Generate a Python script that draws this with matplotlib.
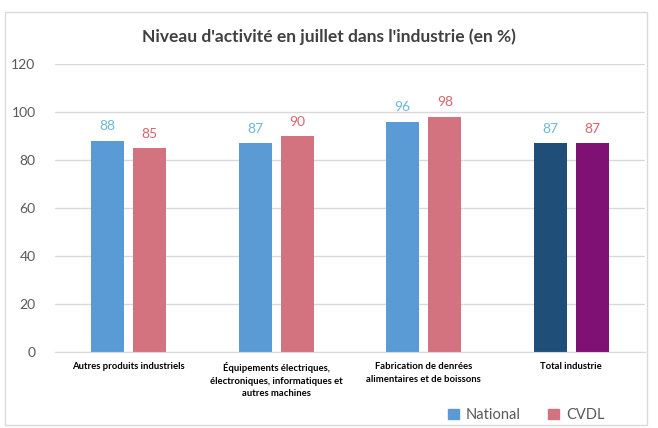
import numpy as np
import matplotlib.pyplot as plt
from matplotlib.patches import Rectangle, Patch

plt.rcParams['font.family'] = ['Lato', 'DejaVu Sans']

categories = ["Autres produits industriels",
              "Équipements électriques,\nélectroniques, informatiques et\nautres machines",
              "Fabrication de denrées\nalimentaires et de boissons",
              "Total industrie"]
national = [88, 87, 96, 87]
cvdl = [85, 90, 98, 87]

col_nat = ["#5B9BD5", "#5B9BD5", "#5B9BD5", "#1F4E79"]
col_cvdl = ["#D47380", "#D47380", "#D47380", "#7F1174"]

fig = plt.figure(figsize=(6.58, 4.28), dpi=100)
fig.patches.append(Rectangle((0.008, 0.008), 0.975, 0.965, transform=fig.transFigure,
                             fill=False, edgecolor="#D9D9D9", linewidth=1))
ax = fig.add_axes([55 / 658, (428 - 352) / 428, 590 / 658, 288 / 428])

x = np.arange(len(categories))
w = 0.225
gap = 0.06
b1 = ax.bar(x - (w + gap) / 2, national, w, color=col_nat)
b2 = ax.bar(x + (w + gap) / 2, cvdl, w, color=col_cvdl)

for r, v in zip(b1, national):
    ax.text(r.get_x() + r.get_width() / 2, v + 3.5, str(v), ha="center", va="bottom",
            color="#6BB8D8", fontsize=10)
for r, v in zip(b2, cvdl):
    ax.text(r.get_x() + r.get_width() / 2, v + 3.5, str(v), ha="center", va="bottom",
            color="#D9626B", fontsize=10)

ax.set_ylim(0, 120)
ax.set_yticks(range(0, 121, 20))
ax.set_xlim(-0.5, len(categories) - 0.5)
ax.set_xticks(x)
ax.set_xticklabels(categories, fontsize=6.8, fontweight="bold", color="#000000",
                   linespacing=1.55, va="top")
ax.tick_params(axis="x", length=0, pad=7)
ax.tick_params(axis="y", length=0, labelcolor="#595959", labelsize=10, pad=14)
ax.grid(axis="y", color="#D9D9D9", linewidth=1)
ax.set_axisbelow(True)
for s in ["top", "right", "left"]:
    ax.spines[s].set_visible(False)
ax.spines["bottom"].set_color("#D9D9D9")

fig.text(0.5, 0.915, "Niveau d'activité en juillet dans l'industrie (en %)",
         ha="center", va="center", fontsize=12.5, color="#404040", fontweight="bold")

handles = [Patch(color="#5B9BD5"), Patch(color="#D47380")]
fig.legend(handles, ["National", "CVDL"], loc="center", bbox_to_anchor=(0.80, 0.03),
           ncol=2, frameon=False, handlelength=0.7, handleheight=0.7,
           columnspacing=1.9, handletextpad=0.5, labelcolor="#595959",
           prop={"size": 10.5})

fig.savefig("out.png", dpi=100)
